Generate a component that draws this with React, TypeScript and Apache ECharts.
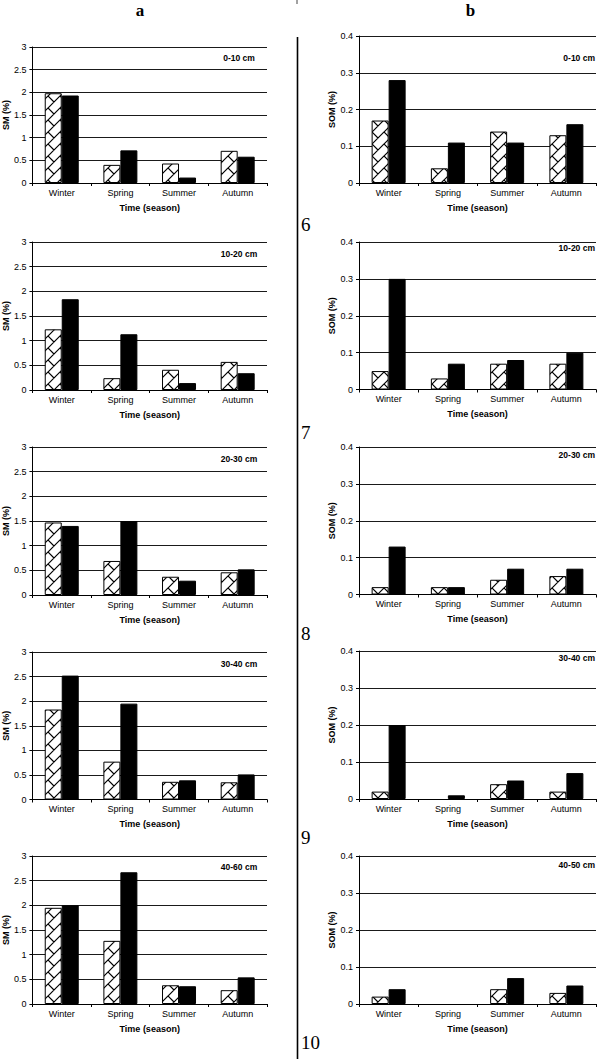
import React, { useEffect, useRef } from "react";
import * as echarts from "echarts";

// ---- data ----
const seasons = ["Winter", "Spring", "Summer", "Autumn"];
const smDepths = ["0-10 cm", "10-20 cm", "20-30 cm", "30-40 cm", "40-60 cm"];
const somDepths = ["0-10 cm", "10-20 cm", "20-30 cm", "30-40 cm", "40-50 cm"];
const smHatched = [
  [1.98, 0.4, 0.43, 0.71],
  [1.23, 0.24, 0.41, 0.57],
  [1.47, 0.69, 0.37, 0.46],
  [1.83, 0.77, 0.36, 0.35],
  [1.95, 1.28, 0.38, 0.28],
];
const smSolid = [
  [1.93, 0.72, 0.12, 0.58],
  [1.84, 1.13, 0.14, 0.34],
  [1.4, 1.5, 0.29, 0.52],
  [2.52, 1.95, 0.39, 0.51],
  [2.0, 2.67, 0.36, 0.54],
];
const somHatched = [
  [0.17, 0.04, 0.14, 0.13],
  [0.05, 0.03, 0.07, 0.07],
  [0.02, 0.02, 0.04, 0.05],
  [0.02, null, 0.04, 0.02],
  [0.02, null, 0.04, 0.03],
];
const somSolid = [
  [0.28, 0.11, 0.11, 0.16],
  [0.3, 0.07, 0.08, 0.1],
  [0.13, 0.02, 0.07, 0.07],
  [0.2, 0.01, 0.05, 0.07],
  [0.04, null, 0.07, 0.05],
];
const smAxis = { max: 3, interval: 0.5, name: "SM (%)" };
const somAxis = { max: 0.4, interval: 0.1, name: "SOM (%)" };
const xName = "Time (season)";
const columnTitles = ["a", "b"];
const figureNumbers = ["6", "7", "8", "9", "10"];

// ---- layout ----
const aGrid = { left: 30, width: 237, tops: [47, 242, 447, 652, 856], heights: [136, 148, 148, 147.5, 148] };
const bGrid = { left: 359, width: 237, tops: [36, 242, 447, 651, 856], heights: [147, 147.5, 147.5, 148, 148] };
const aLabelY = [58, 254, 459, 664, 867];
const bLabelY = [58, 248, 455, 658, 865];
const numberY = [224.5, 432.5, 633.5, 837.5, 1042.5];

const SANS = "'Liberation Sans', Arial, sans-serif";
const SERIF = "'Liberation Serif', 'Times New Roman', serif";

function makeHatch() {
  const T = 12;
  const c = document.createElement("canvas");
  c.width = T;
  c.height = T;
  const ctx = c.getContext("2d")!;
  ctx.fillStyle = "#fff";
  ctx.fillRect(0, 0, T, T);
  ctx.strokeStyle = "#000";
  ctx.lineWidth = 1.2;
  ctx.beginPath();
  for (let k = 0; k <= 2; k++) {
    ctx.moveTo(-1, k * T + 1);
    ctx.lineTo(k * T + 1, -1);
  }
  ctx.moveTo(-0.5, -0.5);
  ctx.lineTo(T / 2, T / 2);
  ctx.moveTo(-0.5, T - 0.5);
  ctx.lineTo(0.5, T + 0.5);
  ctx.moveTo(T - 0.5, -0.5);
  ctx.lineTo(T + 0.5, 0.5);
  ctx.stroke();
  return c;
}

export default function App() {
  const ref = useRef<HTMLDivElement>(null);
  useEffect(() => {
    document.body.style.margin = "0";
    const chart = echarts.init(ref.current!, undefined, { renderer: "svg" });
    const hatch = makeHatch();
    const grids: any[] = [];
    const xAxes: any[] = [];
    const yAxes: any[] = [];
    const series: any[] = [];
    const graphics: any[] = [];

    const addPanel = (
      g: any,
      i: number,
      axis: any,
      hatched: (number | null)[],
      solid: (number | null)[],
      nameGap: number
    ) => {
      const idx = grids.length;
      grids.push({ left: g.left, top: g.tops[i], width: g.width, height: g.heights[i], containLabel: false });
      xAxes.push({
        type: "category",
        gridIndex: idx,
        data: seasons,
        name: xName,
        nameLocation: "middle",
        nameGap: 20,
        nameTextStyle: { fontFamily: SANS, fontSize: 9, fontWeight: "bold", color: "#000" },
        axisLine: { lineStyle: { color: "#000", width: 1 } },
        axisTick: { show: true, length: 3, lineStyle: { color: "#000" } },
        axisLabel: { fontFamily: SANS, fontSize: 9, color: "#000", margin: 5 },
        splitLine: { show: false },
      });
      yAxes.push({
        type: "value",
        gridIndex: idx,
        min: 0,
        max: axis.max,
        interval: axis.interval,
        name: axis.name,
        nameLocation: "middle",
        nameRotate: 90,
        nameGap,
        nameTextStyle: { fontFamily: SANS, fontSize: 9, fontWeight: "bold", color: "#000" },
        axisLine: { show: true, lineStyle: { color: "#000", width: 1 } },
        axisTick: { show: true, length: 3, lineStyle: { color: "#000" } },
        axisLabel: { fontFamily: SANS, fontSize: 9, color: "#000", margin: 6 },
        splitLine: { show: true, lineStyle: { color: "#1a1a1a", width: 1 } },
      });
      series.push({
        type: "bar",
        xAxisIndex: idx,
        yAxisIndex: idx,
        data: hatched,
        barWidth: 17,
        barGap: "0%",
        itemStyle: {
          color: { image: hatch, repeat: "repeat", imageWidth: 12, imageHeight: 12 },
          borderColor: "#000",
          borderWidth: 1,
        },
      });
      series.push({
        type: "bar",
        xAxisIndex: idx,
        yAxisIndex: idx,
        data: solid,
        barWidth: 17,
        barGap: "0%",
        itemStyle: { color: "#000", borderColor: "#000", borderWidth: 1 },
      });
    };

    for (let i = 0; i < 5; i++) {
      addPanel(aGrid, i, smAxis, smHatched[i], smSolid[i], 13.5);
      graphics.push({
        type: "text",
        x: 239,
        y: aLabelY[i],
        style: {
          text: smDepths[i],
          font: `bold 8.5px ${SANS}`,
          fill: "#000",
          textAlign: "center",
          textVerticalAlign: "middle",
        },
      });
    }
    for (let i = 0; i < 5; i++) {
      addPanel(bGrid, i, somAxis, somHatched[i], somSolid[i], 19.5);
      graphics.push({
        type: "text",
        x: 595,
        y: bLabelY[i],
        style: {
          text: somDepths[i],
          font: `bold 8.5px ${SANS}`,
          fill: "#000",
          textAlign: "right",
          textVerticalAlign: "middle",
        },
      });
      graphics.push({
        type: "text",
        x: 301,
        y: numberY[i],
        style: {
          text: figureNumbers[i],
          font: `19px ${SERIF}`,
          fill: "#000",
          textAlign: "left",
          textVerticalAlign: "middle",
        },
      });
    }
    graphics.push({
      type: "text",
      x: 140,
      y: 10,
      style: { text: columnTitles[0], font: `bold 17px ${SERIF}`, fill: "#000", textAlign: "center", textVerticalAlign: "middle" },
    });
    graphics.push({
      type: "text",
      x: 470.5,
      y: 10,
      style: { text: columnTitles[1], font: `bold 17px ${SERIF}`, fill: "#000", textAlign: "center", textVerticalAlign: "middle" },
    });
    graphics.push({
      type: "line",
      shape: { x1: 297.5, y1: 37, x2: 297.5, y2: 1059 },
      style: { stroke: "#000", lineWidth: 1.6 },
    });
    graphics.push({
      type: "line",
      shape: { x1: 297, y1: 0, x2: 297, y2: 4 },
      style: { stroke: "#444", lineWidth: 1 },
    });

    chart.setOption({
      animation: false,
      backgroundColor: "#fff",
      grid: grids,
      xAxis: xAxes,
      yAxis: yAxes,
      series,
      graphic: graphics,
    });
    return () => chart.dispose();
  }, []);
  return <div ref={ref} style={{ width: 600, height: 1059 }} />;
}
